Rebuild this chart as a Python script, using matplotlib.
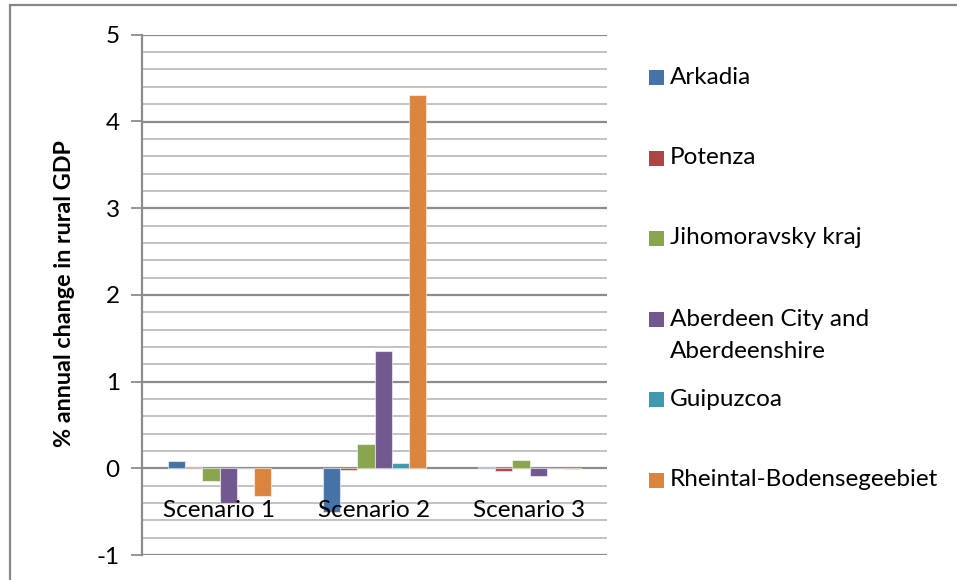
import matplotlib
matplotlib.use("Agg")
import matplotlib.pyplot as plt
from matplotlib.patches import Rectangle
import numpy as np

plt.rcParams['font.family'] = ['Lato', 'DejaVu Sans']

# --- data -------------------------------------------------------------
scenarios = ["Scenario 1", "Scenario 2", "Scenario 3"]
regions = ["Arkadia", "Potenza", "Jihomoravsky kraj",
           "Aberdeen City and\nAberdeenshire", "Guipuzcoa",
           "Rheintal-Bodensegeebiet"]
arkadia = [0.08, -0.50, 0.01]
potenza = [0.02, -0.02, -0.03]
jihomoravsky = [-0.15, 0.28, 0.09]
aberdeen = [-0.40, 1.35, -0.09]
guipuzcoa = [0.0, 0.06, 0.0]
rheintal = [-0.32, 4.30, -0.005]
series = [arkadia, potenza, jihomoravsky, aberdeen, guipuzcoa, rheintal]
colors = ["#4572A7", "#AA4643", "#89A54E", "#71588F", "#4198AF", "#DB843D"]
yticks = [-1, 0, 1, 2, 3, 4, 5]
ylabel = "% annual change in rural GDP"

W, H = 957, 580
FS = 17.5
fig = plt.figure(figsize=(W / 100, H / 100), dpi=100)
ax = fig.add_axes([142 / W, 1 - 555 / H, (607 - 142) / W, (555 - 34.8) / H])

# chart-area border
fig.add_artist(Rectangle((10 / W, -0.2), 1.2, 1 - 4.7 / H + 0.2,
                         transform=fig.transFigure, fill=False,
                         edgecolor="#868686", linewidth=1.6))

# grid lines: major at every unit, minor every 0.2
major_c, minor_c = "#8C8C8C", "#BDBDBD"
for v in np.arange(-1, 5.0001, 0.2):
    is_major = abs(v - round(v)) < 1e-6
    ax.axhline(v, color=major_c if is_major else minor_c,
               linewidth=1.6 if is_major else 1.3, zorder=0.5)

n = len(series)
bw = 1 / 9
x = np.arange(len(scenarios)) + 0.5
for i, (vals, c) in enumerate(zip(series, colors)):
    ax.bar(x + (i - (n - 1) / 2) * bw, vals, width=bw, color=c,
           edgecolor=(1, 1, 1, 0.55), linewidth=0.8, zorder=2)

ax.set_xlim(0, 3)
ax.set_ylim(-1, 5)
ax.set_yticks(yticks)
ax.set_yticklabels([str(t) for t in yticks], fontsize=FS)
ax.set_xticks([])
ax.tick_params(axis="y", length=8, width=1.3, color=major_c, pad=8)
for s in ["top", "right", "bottom"]:
    ax.spines[s].set_visible(False)
ax.spines["left"].set_color(major_c)
ax.spines["left"].set_linewidth(1.6)

for xi, lab in zip(x, scenarios):
    ax.text(xi, -0.49, lab, ha="center", va="center", fontsize=FS, zorder=3)

fig.text(65 / W, 1 - 294 / H, ylabel, rotation=90, ha="center",
         va="center", fontsize=16.8, fontweight="bold")

# legend, drawn entry by entry
legend_y = [77, 158, 238, 319, 399, 480]
line_step = 33
for lab, c, yy in zip(regions, colors, legend_y):
    fig.add_artist(Rectangle((649 / W, 1 - (yy + 7.5) / H), 15 / W, 15 / H,
                             transform=fig.transFigure, facecolor=c,
                             edgecolor="none"))
    for k, line in enumerate(lab.split("\n")):
        fig.text(670 / W, 1 - (yy + k * line_step) / H, line, ha="left",
                 va="center", fontsize=FS)

fig.savefig("out.png", dpi=100)
